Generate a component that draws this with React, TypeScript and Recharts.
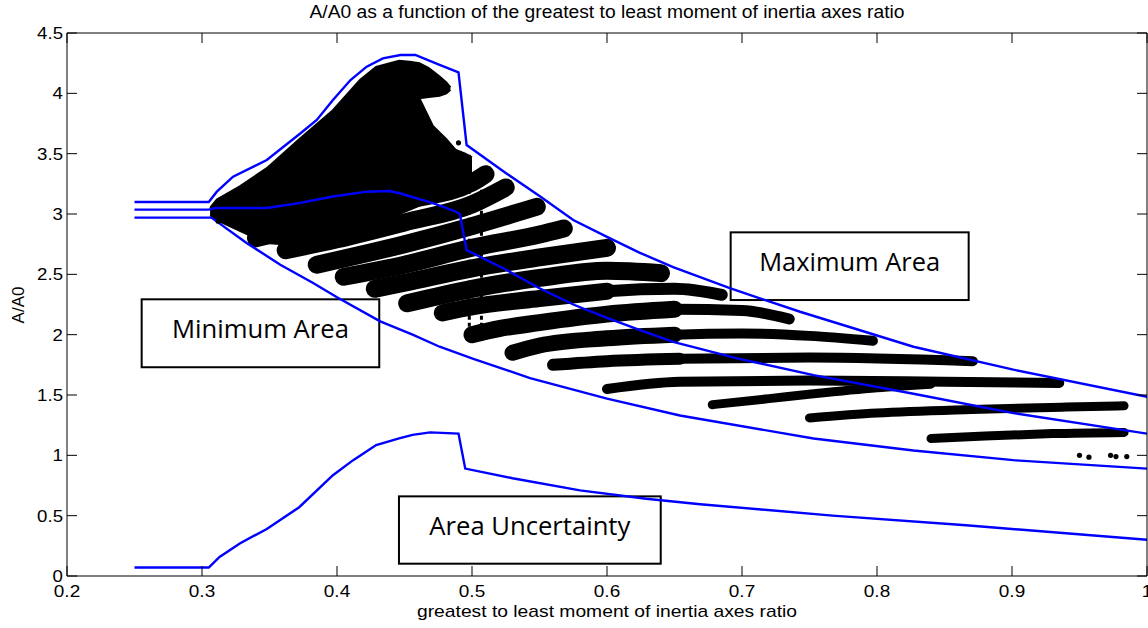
import React from 'react';
import { ComposedChart, Line, Area, Scatter, XAxis, YAxis, ReferenceArea } from 'recharts';

// ---------- data ----------
const xTicks = [0.2, 0.3, 0.4, 0.5, 0.6, 0.7, 0.8, 0.9, 1.0];
const xTickLabels = ['0.2', '0.3', '0.4', '0.5', '0.6', '0.7', '0.8', '0.9', '1'];
const yTicks = [0, 0.5, 1, 1.5, 2, 2.5, 3, 3.5, 4, 4.5];
const yTickLabels = ['0', '0.5', '1', '1.5', '2', '2.5', '3', '3.5', '4', '4.5'];

// blue curves
const maxAreaCurve = [
  [0.25, 3.1], [0.305, 3.1], [0.311, 3.185], [0.323, 3.309], [0.348, 3.447], [0.373, 3.669],
  [0.385, 3.779], [0.397, 3.945], [0.41, 4.11], [0.422, 4.221], [0.434, 4.29], [0.447, 4.318],
  [0.458, 4.318], [0.476, 4.235], [0.49, 4.174], [0.496, 3.572], [0.525, 3.34], [0.55, 3.15],
  [0.575, 2.95], [0.6, 2.81], [0.624, 2.68], [0.649, 2.56], [0.691, 2.385], [0.743, 2.19],
  [0.827, 1.9], [0.901, 1.71], [1.0, 1.485],
];
const midCurve = [
  [0.25, 3.036], [0.305, 3.036], [0.31, 3.05], [0.348, 3.05], [0.372, 3.09], [0.397, 3.145],
  [0.422, 3.185], [0.439, 3.19], [0.447, 3.17], [0.471, 3.09], [0.487, 3.025], [0.491, 3.0],
  [0.496, 2.7], [0.525, 2.54], [0.55, 2.385], [0.575, 2.25], [0.6, 2.14], [0.624, 2.04],
  [0.649, 1.94], [0.698, 1.8], [0.753, 1.665], [0.827, 1.51], [0.901, 1.35], [1.0, 1.18],
];
const minAreaCurve = [
  [0.25, 2.97], [0.305, 2.97], [0.307, 2.97], [0.333, 2.76], [0.358, 2.58], [0.382, 2.43],
  [0.4, 2.31], [0.432, 2.11], [0.456, 2.0], [0.476, 1.9], [0.501, 1.8], [0.543, 1.64],
  [0.6, 1.47], [0.654, 1.33], [0.753, 1.14], [0.827, 1.04], [0.901, 0.96], [1.0, 0.89],
];
const uncertaintyCurve = [
  [0.25, 0.07], [0.305, 0.07], [0.313, 0.158], [0.328, 0.27], [0.348, 0.39], [0.372, 0.57],
  [0.397, 0.835], [0.412, 0.96], [0.429, 1.085], [0.446, 1.14], [0.456, 1.17], [0.469, 1.19],
  [0.49, 1.18], [0.495, 0.89], [0.53, 0.81], [0.58, 0.71], [0.629, 0.64], [0.669, 0.595],
  [0.767, 0.5], [0.866, 0.42], [1.0, 0.3],
];

// dense simulated-sample cloud: [x, low, high]
const denseCloud = [
  [0.306, 2.99, 3.05], [0.311, 2.95, 3.12], [0.328, 2.86, 3.23], [0.348, 2.76, 3.38],
  [0.372, 2.74, 3.62], [0.397, 2.8, 3.86], [0.417, 2.88, 4.11], [0.429, 2.94, 4.22],
  [0.446, 3.0, 4.27], [0.455, 3.04, 4.26], [0.461, 3.07, 3.96], [0.471, 3.12, 3.73],
  [0.481, 3.18, 3.62], [0.488, 3.24, 3.53], [0.495, 3.3, 3.5], [0.5, 3.34, 3.47],
];
const cloudLobe = [
  [0.455, 4.0, 4.26], [0.461, 3.96, 4.25], [0.468, 3.97, 4.21], [0.476, 3.98, 4.14],
  [0.481, 4.0, 4.09], [0.484, 4.03, 4.05],
];
// streak bands of samples (lower-left start -> right end), bottom to top
const streaks = [
  [[0.84, 1.14], [0.88, 1.16], [0.93, 1.18], [0.983, 1.19]],
  [[0.75, 1.31], [0.8, 1.35], [0.87, 1.38], [0.94, 1.4], [0.983, 1.41]],
  [[0.678, 1.42], [0.72, 1.47], [0.753, 1.51], [0.8, 1.56], [0.84, 1.59]],
  [[0.6, 1.55], [0.654, 1.61], [0.75, 1.62], [0.85, 1.61], [0.935, 1.6]],
  [[0.56, 1.75], [0.6, 1.78], [0.654, 1.8], [0.75, 1.81], [0.871, 1.78]],
  [[0.53, 1.85], [0.55, 1.91], [0.6, 1.97], [0.65, 2.0], [0.7, 2.01], [0.75, 1.99], [0.797, 1.95]],
  [[0.5, 2.0], [0.52, 2.05], [0.55, 2.1], [0.6, 2.17], [0.65, 2.21], [0.7, 2.2], [0.735, 2.13]],
  [[0.478, 2.18], [0.5, 2.23], [0.55, 2.3], [0.6, 2.36], [0.65, 2.38], [0.685, 2.33]],
  [[0.452, 2.26], [0.5, 2.38], [0.55, 2.47], [0.6, 2.53], [0.64, 2.51]],
  [[0.428, 2.38], [0.45, 2.43], [0.5, 2.55], [0.55, 2.64], [0.6, 2.72]],
  [[0.405, 2.48], [0.45, 2.58], [0.5, 2.72], [0.55, 2.83], [0.568, 2.88]],
  [[0.385, 2.58], [0.45, 2.75], [0.5, 2.9], [0.548, 3.06]],
  [[0.362, 2.7], [0.4, 2.79], [0.45, 2.93], [0.5, 3.08], [0.525, 3.22]],
  [[0.34, 2.8], [0.4, 2.96], [0.45, 3.11], [0.5, 3.26], [0.51, 3.33]],
];
const sampleColumns = [
  [[0.498, 1.95], [0.498, 3.5]],
  [[0.507, 1.95], [0.507, 3.4]],
];
const strayPoints = [
  [0.95, 1.0], [0.957, 0.985], [0.973, 1.0], [0.977, 0.99], [0.985, 0.99],
  [0.312, 2.94], [0.49, 3.59], [0.967, 1.4], [0.975, 1.19],
];

// annotation boxes in data units
const annotations = [
  { text: 'Minimum Area', x1: 0.2553, x2: 0.4313, y1: 1.73, y2: 2.293 },
  { text: 'Maximum Area', x1: 0.6916, x2: 0.8679, y1: 2.287, y2: 2.848 },
  { text: 'Area Uncertainty', x1: 0.4459, x2: 0.6398, y1: 0.102, y2: 0.66 },
];

// ---------- styles ----------
const annotationTextWidths = [177, 181, 201];
// per streak: [width left of split, width right of split, split x]
const streakWidths = [
  [9, 9, 1], [9, 9, 1], [9, 9, 1], [10, 10, 1], [12, 10, 0.66], [16, 10, 0.68], [17, 11, 0.68],
  [17, 12, 0.62], [18, 18, 1], [18, 18, 1], [18, 18, 1], [18, 18, 1], [18, 18, 1], [18, 18, 1],
];

// ---------- helpers ----------
const toXY = (arr: number[][]) => arr.map(([x, y]) => ({ x, y }));
const toRange = (arr: number[][]) => arr.map(([x, lo, hi]) => ({ x, r: [lo, hi] }));

const W = 1148;
const H = 628;
const PL = 67;
const PT = 33;
const PR = 1147;
const PB = 576;
const FONT = 'Liberation Sans, Arial, Helvetica, sans-serif';
const BLUE = '#0000ff';

const BottomTick = (props: any) => {
  const { x, payload } = props;
  const i = xTicks.indexOf(payload.value);
  const label = i >= 0 ? xTickLabels[i] : String(payload.value);
  return (
    <g>
      <line x1={x} x2={x} y1={PB} y2={PB - 10} stroke="#000" strokeWidth={1} />
      <text transform={`translate(${x},${PB + 21}) scale(1.15,1)`} textAnchor="middle" fontSize={16.5} fontFamily={FONT} fill="#000">
        {label}
      </text>
    </g>
  );
};
const TopTick = (props: any) => {
  const { x } = props;
  return <line x1={x} x2={x} y1={PT} y2={PT + 10} stroke="#000" strokeWidth={1} />;
};
const LeftTick = (props: any) => {
  const { y, payload } = props;
  const i = yTicks.indexOf(payload.value);
  const label = i >= 0 ? yTickLabels[i] : String(payload.value);
  return (
    <g>
      <line x1={PL} x2={PL + 10} y1={y} y2={y} stroke="#000" strokeWidth={1} />
      <text transform={`translate(${PL - 4},${y + 6}) scale(1.13,1)`} textAnchor="end" fontSize={16.5} fontFamily={FONT} fill="#000">
        {label}
      </text>
    </g>
  );
};
const RightTick = (props: any) => {
  const { y } = props;
  return <line x1={PR} x2={PR - 10} y1={y} y2={y} stroke="#000" strokeWidth={1} />;
};

const makeBox = (text: string, w: number) => (props: any) => {
  const { x, y, width, height } = props;
  const cx = x + width / 2;
  const cy = y + height / 2;
  return (
    <g>
      <rect x={x} y={y} width={width} height={height} fill="#fff" stroke="#000" strokeWidth={2} />
      <text x={cx} y={cy + 5} textAnchor="middle" fontSize={26} fontFamily="Open Sans, Noto Sans, sans-serif"
        fill="#000" textLength={w} lengthAdjust="spacingAndGlyphs">
        {text}
      </text>
    </g>
  );
};

const Dot = (props: any) => {
  const { cx, cy } = props;
  return <circle cx={cx} cy={cy} r={2.6} fill="#000" />;
};

const streakLines: any[] = [];
streaks.forEach((s, i) => {
  const [wl, wr, split] = streakWidths[i];
  streakLines.push(
    <Line key={'sr' + i} data={toXY(s)} dataKey="y" type="monotone" stroke="#000" strokeWidth={wr}
      strokeLinecap="round" strokeLinejoin="round" dot={false} activeDot={false} isAnimationActive={false} />,
  );
  if (wl !== wr) {
    const left = s.filter(([x]) => x <= split + 1e-9);
    streakLines.push(
      <Line key={'sl' + i} data={toXY(left)} dataKey="y" type="monotone" stroke="#000" strokeWidth={wl}
        strokeLinecap="round" strokeLinejoin="round" dot={false} activeDot={false} isAnimationActive={false} />,
    );
  }
});

export default function App() {
  return (
    <div style={{ position: 'absolute', left: 0, top: 0, width: W, height: H, background: '#fff' }}>
      <ComposedChart width={W} height={H} margin={{ top: 0, right: 0, bottom: 0, left: 0 }}>
        <XAxis xAxisId={0} dataKey="x" type="number" domain={[0.2, 1]} ticks={xTicks} allowDataOverflow
          height={H - PB} tickLine={false} axisLine={{ stroke: '#000' }} tick={BottomTick} interval={0} />
        <XAxis xAxisId="top" orientation="top" dataKey="x" type="number" domain={[0.2, 1]} ticks={xTicks} allowDataOverflow
          height={PT} tickLine={false} axisLine={{ stroke: '#000' }} tick={TopTick} interval={0} />
        <YAxis yAxisId={0} type="number" domain={[0, 4.5]} ticks={yTicks} allowDataOverflow width={PL}
          tickLine={false} axisLine={{ stroke: '#000' }} tick={LeftTick} interval={0} />
        <YAxis yAxisId="right" orientation="right" type="number" domain={[0, 4.5]} ticks={yTicks} allowDataOverflow
          width={W - PR} tickLine={false} axisLine={{ stroke: '#000' }} tick={RightTick} interval={0} />

        <Area data={toRange(denseCloud)} dataKey="r" type="linear" fill="#000" fillOpacity={1} stroke="#000"
          strokeWidth={2} isAnimationActive={false} dot={false} activeDot={false} />
        <Area data={toRange(cloudLobe)} dataKey="r" type="linear" fill="#000" fillOpacity={1} stroke="#000"
          strokeWidth={2} isAnimationActive={false} dot={false} activeDot={false} />
        {streakLines}
        {sampleColumns.map((s, i) => (
          <Line key={'c' + i} data={toXY(s)} dataKey="y" type="linear" stroke="#000" strokeWidth={3}
            strokeDasharray="4 3" dot={false} activeDot={false} isAnimationActive={false} />
        ))}
        <Scatter data={toXY(strayPoints)} dataKey="y" shape={Dot} isAnimationActive={false} />

        <Line data={toXY(maxAreaCurve)} dataKey="y" type="linear" stroke={BLUE} strokeWidth={2.4} dot={false} activeDot={false} isAnimationActive={false} />
        <Line data={toXY(midCurve)} dataKey="y" type="linear" stroke={BLUE} strokeWidth={2.4} dot={false} activeDot={false} isAnimationActive={false} />
        <Line data={toXY(minAreaCurve)} dataKey="y" type="linear" stroke={BLUE} strokeWidth={2.4} dot={false} activeDot={false} isAnimationActive={false} />
        <Line data={toXY(uncertaintyCurve)} dataKey="y" type="linear" stroke={BLUE} strokeWidth={2.4} dot={false} activeDot={false} isAnimationActive={false} />

        {annotations.map((a, i) => (
          <ReferenceArea key={'a' + i} x1={a.x1} x2={a.x2} y1={a.y1} y2={a.y2}
            shape={makeBox(a.text, annotationTextWidths[i])} ifOverflow="visible" />
        ))}
      </ComposedChart>
      <svg width={W} height={H} style={{ position: 'absolute', left: 0, top: 0, pointerEvents: 'none' }}>
        <text x={607} y={18} textAnchor="middle" fontSize={17.5} fontFamily={FONT} fill="#000" textLength={595} lengthAdjust="spacingAndGlyphs">
          A/A0 as a function of the greatest to least moment of inertia axes ratio
        </text>
        <text x={607} y={617} textAnchor="middle" fontSize={17} fontFamily={FONT} fill="#000" textLength={380} lengthAdjust="spacingAndGlyphs">
          greatest to least moment of inertia axes ratio
        </text>
        <text transform="translate(24,305) rotate(-90)" textAnchor="middle" fontSize={17} fontFamily={FONT} fill="#000">
          A/A0
        </text>
      </svg>
    </div>
  );
}
